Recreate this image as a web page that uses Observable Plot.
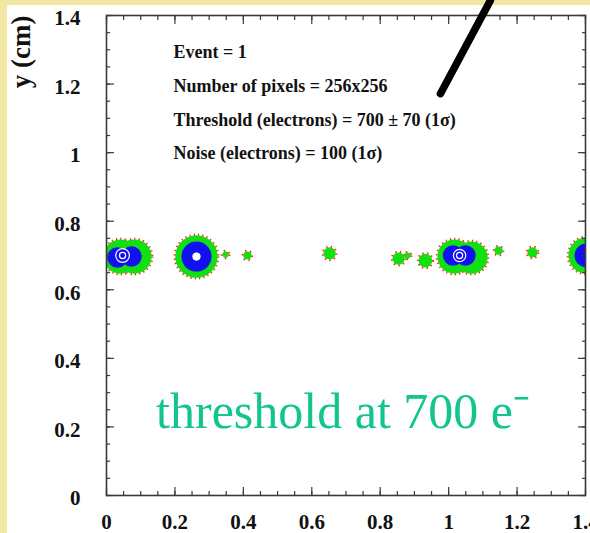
<!DOCTYPE html>
<html>
<head>
<meta charset="utf-8">
<script src="https://cdn.jsdelivr.net/npm/d3@7"></script>
<script src="https://cdn.jsdelivr.net/npm/@observablehq/plot@0.6"></script>
<style>
  html, body { margin: 0; padding: 0; }
  body { width: 590px; height: 533px; overflow: hidden; position: relative; background: #f3e7a4; }
  #paper { position: absolute; left: 7px; top: 5px; right: 0; bottom: 0; background: #ffffff; }
  #chart { position: absolute; left: 0; top: 0; }
</style>
</head>
<body>
<div id="paper"></div>
<div id="chart"></div>
<script>
// Event 1: charge clusters along the track (cm); a wide cluster is built from a few lobes
const clusterX    = [0.041, 0.082, 0.263, 0.348, 0.412, 0.652, 0.854, 0.880, 0.932, 1.017, 1.067, 1.146, 1.245, 1.403];
const clusterY    = [0.697, 0.697, 0.697, 0.703, 0.700, 0.706, 0.691, 0.700, 0.685, 0.697, 0.694, 0.714, 0.709, 0.700];
const outerRadius = [0.050, 0.050, 0.062, 0.009, 0.012, 0.018, 0.018, 0.009, 0.020, 0.050, 0.047, 0.012, 0.015, 0.053];

// blue (high-charge) contour lobes
const coreX      = [0.032, 0.073, 0.263, 1.013, 1.049, 1.403];
const coreY      = [0.694, 0.697, 0.697, 0.700, 0.700, 0.700];
const coreRadius = [0.030, 0.030, 0.044, 0.030, 0.030, 0.035];

// white peak contours
const peakX      = [0.263];
const peakY      = [0.697];
const peakRadius = [0.012];
const ringX      = [0.047, 0.047, 1.032, 1.032];
const ringY      = [0.700, 0.700, 0.700, 0.700];
const ringRadius = [0.020, 0.009, 0.018, 0.009];

// run parameters
const notes = [
  "Event = 1",
  "Number of pixels = 256x256",
  "Threshold (electrons) = 700 \u00b1 70 (1\u03c3)",
  "Noise (electrons) = 100 (1\u03c3)"
];
const headline = "threshold at 700 e\u207b";

// pointer from the slide, in plot coordinates
const pointerX = [0.976, 1.122];
const pointerY = [1.172, 1.444];

// axis ticks
const majorTicks = [0, 0.2, 0.4, 0.6, 0.8, 1, 1.2, 1.4];
const minorTicks = d3.range(0, 1.4001, 0.05).map(v => +v.toFixed(2));

const clusters = clusterX.map((x, i) => ({x, y: clusterY[i], r: outerRadius[i]}));
const cores = coreX.map((x, i) => ({x, y: coreY[i], r: coreRadius[i]}));
const peaks = peakX.map((x, i) => ({x, y: peakY[i], r: peakRadius[i]}));
const rings = ringX.map((x, i) => ({x, y: ringY[i], r: ringRadius[i]}));
const pointer = pointerX.map((x, i) => ({x, y: pointerY[i]}));

const serif = "'Liberation Serif', 'Times New Roman', serif";
const axisColor = "#3a3a3a";

const chart = Plot.plot({
  width: 590,
  height: 533,
  marginLeft: 106,
  marginRight: 5,
  marginTop: 15,
  marginBottom: 38,
  style: {background: "transparent", fontFamily: serif, overflow: "hidden"},
  x: {domain: [0, 1.4], label: null},
  y: {domain: [0, 1.4], label: null},
  r: {type: "linear", domain: [0, 1.4], range: [0, 479]},
  marks: [
    // cluster contours: speckled red edge, green outer level, blue inner level, white peak
    Plot.dot(clusters, {x: "x", y: "y", r: "r", fill: "none", stroke: "#ff2a10", strokeWidth: 3.5, strokeDasharray: "1.2,3", clip: true}),
    Plot.dot(clusters, {x: "x", y: "y", r: "r", fill: "#12e012", clip: true}),
    Plot.dot(cores, {x: "x", y: "y", r: "r", fill: "#1010f0", clip: true}),
    Plot.dot(peaks, {x: "x", y: "y", r: "r", fill: "#ffffff", clip: true}),
    Plot.dot(rings, {x: "x", y: "y", r: "r", fill: "none", stroke: "#ffffff", strokeWidth: 1.2, clip: true}),

    // inward ticks on all four sides
    ...["bottom", "top"].flatMap(anchor => [
      Plot.axisX(majorTicks, {anchor, tickSize: -8, fill: "none", stroke: axisColor, strokeWidth: 1.2, label: null}),
      Plot.axisX(minorTicks, {anchor, tickSize: -4, fill: "none", stroke: axisColor, strokeWidth: 1.2, label: null})
    ]),
    ...["left", "right"].flatMap(anchor => [
      Plot.axisY(majorTicks, {anchor, tickSize: -8, fill: "none", stroke: axisColor, strokeWidth: 1.2, label: null}),
      Plot.axisY(minorTicks, {anchor, tickSize: -4, fill: "none", stroke: axisColor, strokeWidth: 1.2, label: null})
    ]),
    Plot.frame({stroke: axisColor, strokeWidth: 1.6}),

    // tick labels
    Plot.axisX(majorTicks, {anchor: "bottom", tickSize: 0, tickPadding: 19, fontSize: 21, fontWeight: "bold", fill: "#111", label: null, tickFormat: d => String(d)}),
    Plot.axisY(majorTicks, {anchor: "left", tickSize: 0, tickPadding: 26, fontSize: 21, fontWeight: "bold", fill: "#111", label: null, tickFormat: d => String(d), dy: 3}),

    // axis title
    Plot.text(["y (cm)"], {frameAnchor: "top-left", dx: -85, dy: 0, rotate: -90, textAnchor: "end", lineAnchor: "middle", fontSize: 27, fontWeight: "bold", fill: "#111"}),

    // run parameters
    Plot.text([notes.join("\n")], {x: 0.196, y: 1.16, textAnchor: "start", lineAnchor: "middle", lineHeight: 1.88, fontSize: 18, fontWeight: "bold", fill: "#111"}),

    // headline
    Plot.text([headline], {x: 0.145, y: 0.198, textAnchor: "start", lineAnchor: "bottom", fontSize: 50, fill: "#12c48e"}),

    // pointer line
    Plot.line(pointer, {x: "x", y: "y", stroke: "#000", strokeWidth: 7.5, clip: false})
  ]
});
document.getElementById("chart").append(chart);
</script>
</body>
</html>
